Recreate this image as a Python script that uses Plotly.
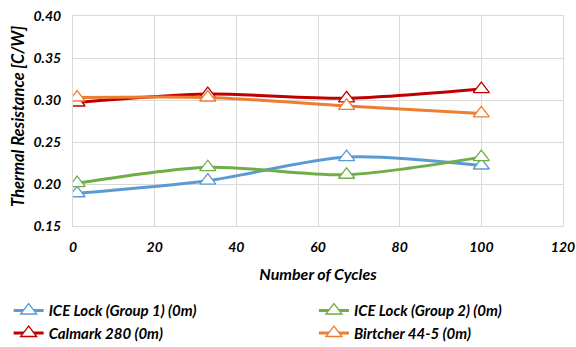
import plotly.graph_objects as go

cycles = [1, 33, 67, 100]
series_names = ["ICE Lock (Group 1) (0m)", "ICE Lock (Group 2) (0m)", "Calmark 280 (0m)", "Birtcher 44-5 (0m)"]
ice1 = [0.189, 0.204, 0.232, 0.222]
ice2 = [0.201, 0.220, 0.211, 0.232]
calmark = [0.297, 0.307, 0.302, 0.313]
birtcher = [0.303, 0.303, 0.293, 0.284]
colors = ["#5B9BD5", "#70AD47", "#C00000", "#ED7D31"]
legend_ids = ["legend", "legend2", "legend", "legend2"]
x_ticks = [0, 20, 40, 60, 80, 100, 120]
y_ticks = [0.15, 0.20, 0.25, 0.30, 0.35, 0.40]
y_title = "Thermal Resistance [C/W]"
x_title = "Number of Cycles"

FONT = "Lato"
fig = go.Figure()
for name, vals, c, lg in zip(series_names, [ice1, ice2, calmark, birtcher], colors, legend_ids):
    fig.add_trace(go.Scatter(
        x=cycles, y=vals, name=name, mode="lines+markers", legend=lg,
        line=dict(color=c, width=3, shape="spline", smoothing=0.8),
        marker=dict(symbol="triangle-up", size=14, color="white",
                    line=dict(color=c, width=1.3)),
    ))

tickfont = dict(family=FONT, size=14, color="black", weight="bold", style="italic")
legfont = dict(family=FONT, size=15, color="black", weight="bold", style="italic")
fig.update_layout(
    width=576, height=347,
    margin=dict(l=73, r=13, t=16, b=121, autoexpand=False),
    paper_bgcolor="white", plot_bgcolor="white",
    font=dict(family=FONT, color="black"),
    xaxis=dict(range=[0, 120], tickvals=x_ticks, ticktext=[str(v) for v in x_ticks],
               showgrid=True, gridcolor="#D9D9D9", gridwidth=1,
               showline=True, linecolor="#D9D9D9", mirror=True, zeroline=False,
               tickfont=tickfont, ticks="", ticklabelstandoff=8,
               title=dict(text=x_title,
                          font=dict(family=FONT, size=16, color="black", weight="bold", style="italic"))),
    yaxis=dict(range=[0.15, 0.40], tickvals=y_ticks, ticktext=[f"{v:.2f}" for v in y_ticks],
               showgrid=True, gridcolor="#D9D9D9", gridwidth=1,
               showline=True, linecolor="#D9D9D9", mirror=True, zeroline=False,
               tickfont=tickfont, ticks="", ticklabelstandoff=8),
    legend=dict(xref="container", yref="container",
                x=0.015, y=0.152, xanchor="left", yanchor="top",
                tracegroupgap=0, font=legfont, itemwidth=30, bgcolor="rgba(0,0,0,0)"),
    legend2=dict(xref="container", yref="container",
                 x=0.545, y=0.152, xanchor="left", yanchor="top",
                 tracegroupgap=0, font=legfont, itemwidth=30, bgcolor="rgba(0,0,0,0)"),
    showlegend=True,
)
fig.add_annotation(text=y_title, xref="paper", yref="paper", x=-0.112, y=0.52,
                   xanchor="center", yanchor="middle", textangle=-90, showarrow=False,
                   font=dict(family=FONT, size=16.5, color="black", weight="bold", style="italic"))
fig.write_html("out.html")
